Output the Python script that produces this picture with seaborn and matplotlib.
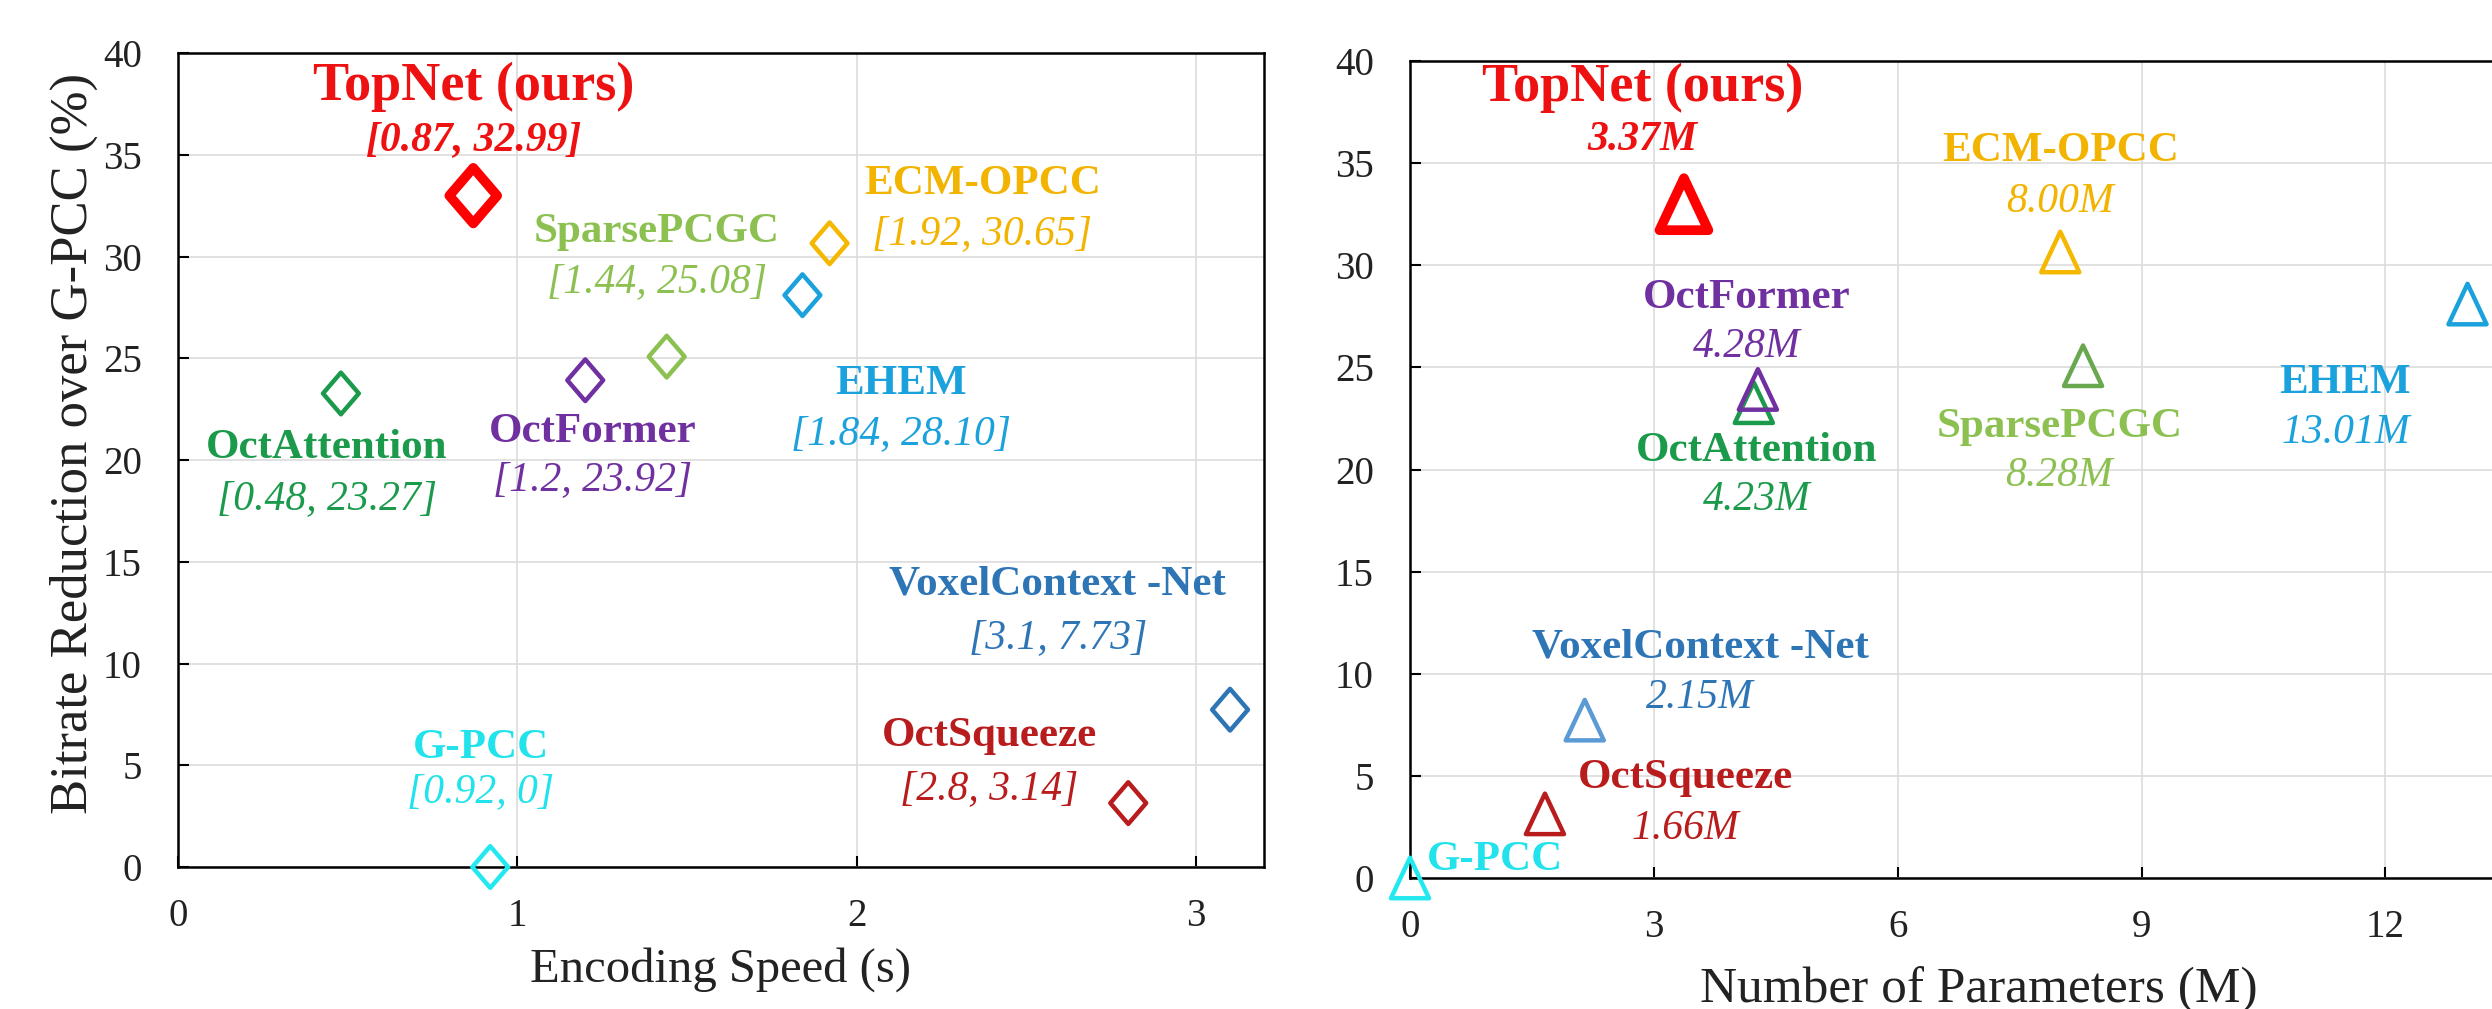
import matplotlib
matplotlib.use('Agg')  # Headless backend
import matplotlib.pyplot as plt
import seaborn as sns
import pandas as pd
import numpy as np
from matplotlib.path import Path

# --- data ---
methods = ["TopNet (ours)", "OctAttention", "OctFormer", "SparsePCGC", "EHEM",
           "ECM-OPCC", "VoxelContext -Net", "OctSqueeze", "G-PCC"]
enc_speed = [0.87, 0.48, 1.2, 1.44, 1.84, 1.92, 3.1, 2.8, 0.92]
bitrate_red = [32.99, 23.27, 23.92, 25.08, 28.10, 30.65, 7.73, 3.14, 0.0]
params_m = [3.37, 4.23, 4.28, 8.28, 13.01, 8.00, 2.15, 1.66, 0.0]
speed_tags = ["[0.87, 32.99]", "[0.48, 23.27]", "[1.2, 23.92]", "[1.44, 25.08]", "[1.84, 28.10]",
              "[1.92, 30.65]", "[3.1, 7.73]", "[2.8, 3.14]", "[0.92, 0]"]
param_tags = ["3.37M", "4.23M", "4.28M", "8.28M", "13.01M", "8.00M", "2.15M", "1.66M", ""]
speed_ticks = [0, 1, 2, 3]
param_ticks = [0, 3, 6, 9, 12]
br_ticks = [0, 5, 10, 15, 20, 25, 30, 35, 40]

# --- styles ---
text_colors = ["#ee1111", "#1b9a4b", "#7030a0", "#8cc152", "#1ba1dc",
               "#f2b400", "#2e75b6", "#b81c1c", "#22e2ec"]
left_marker_colors = ["#ff0000", "#1b9a4b", "#7030a0", "#8cc152", "#1ba1dc",
                      "#f5b800", "#2e75b6", "#b81c1c", "#22e8f0"]
right_marker_colors = ["#ff0000", "#1b9a4b", "#7030a0", "#6aa84f", "#1ba1dc",
                       "#f5b800", "#5b9bd5", "#b81c1c", "#22e8f0"]
diamond_area = [1600, 900, 900, 900, 900, 900, 900, 900, 900]
tri_area = [1400, 850, 850, 850, 850, 850, 850, 850, 850]
marker_lw = [7.0, 3.2, 3.2, 3.2, 3.2, 3.2, 3.2, 3.2, 3.2]

# label offsets (points) relative to each marker: (name dx, name dy, tag dy)
left_offsets = [(0, 78, 40), (-10, -39, -76), (5, -37, -72), (-7, 90, 54), (71, -64, -100),
                (110, 43, 7), (-124, 90, 52), (-100, 48, 10), (-7, 86, 54)]
right_offsets = [(-30, 84, 46), (2, -35, -70), (-8, 66, 31), (-17, -44, -79), (-88, -57, -93),
                 (0, 73, 36), (83, 52, 16), (101, 26, -11), (12, 13, None)]

diamond = Path([(0, 0.5), (0.43, 0), (0, -0.5), (-0.43, 0), (0, 0.5)], closed=True)
triangle = Path([(0, 0.5), (0.47, -0.5), (-0.47, -0.5), (0, 0.5)], closed=True)

sns.set_theme(style="whitegrid", rc={
    "axes.edgecolor": "black",
    "axes.linewidth": 1.8,
    "grid.color": "#dcdcdc",
    "grid.linewidth": 1.2,
})
plt.rcParams['font.family'] = ['Liberation Serif', 'DejaVu Serif']

df = pd.DataFrame({"method": methods, "speed": enc_speed, "br": bitrate_red, "params": params_m})

fig = plt.figure(figsize=(24.92, 10.09), dpi=100)
ax1 = fig.add_axes([0.07143, 0.14073, 0.43579, 0.80674])
ax2 = fig.add_axes([0.56581, 0.12983, 0.45666, 0.80971])


def draw_points(ax, xcol, marker, colors, areas):
    sns.scatterplot(data=df, x=xcol, y="br", hue="method", palette=dict(zip(methods, colors)),
                    marker=marker, s=areas, linewidth=3, legend=False, ax=ax, zorder=3)
    pts = ax.collections[-1]
    pts.set_edgecolors(pts.get_facecolors())
    pts.set_facecolors("none")
    pts.set_linewidths(marker_lw)
    pts.set_clip_on(False)


def style_axes(ax, xticks, xlim):
    ax.set_xlim(*xlim)
    ax.set_ylim(0, 40)
    ax.set_xticks(xticks)
    ax.set_yticks(br_ticks)
    ax.set_axisbelow(True)
    ax.tick_params(axis="both", direction="in", length=8, width=1.5, color="black",
                   labelsize=28, labelcolor="#222222")
    ax.tick_params(axis="y", left=True, pad=26)
    ax.tick_params(axis="x", bottom=True, pad=22)
    for sp in ax.spines.values():
        sp.set_color("black")
        sp.set_linewidth(1.8)


draw_points(ax1, "speed", diamond, left_marker_colors, diamond_area)
draw_points(ax2, "params", triangle, right_marker_colors, tri_area)
style_axes(ax1, speed_ticks, (0, 3.2))
style_axes(ax2, param_ticks, (0, 14))

ax1.set_xlabel("Encoding Speed (s)", fontsize=35, color="#222222", labelpad=9)
ax1.set_ylabel("Bitrate Reduction over G-PCC (%)", fontsize=38, color="#222222")
ax1.yaxis.set_label_coords(-0.074, 0.52)
ax2.set_xlabel("Number of Parameters (M)", fontsize=37, color="#222222", labelpad=15)
ax2.set_ylabel("")

for i, name in enumerate(methods):
    big = i == 0
    # left panel: name + [speed, bitrate]
    dx, dy, ty = left_offsets[i]
    ax1.annotate(name, (enc_speed[i], bitrate_red[i]), xytext=(dx, dy), textcoords="offset points",
                 ha="center", va="center", fontsize=39 if big else 31, fontweight="bold",
                 color=text_colors[i], annotation_clip=False)
    ax1.annotate(speed_tags[i], (enc_speed[i], bitrate_red[i]), xytext=(dx, ty),
                 textcoords="offset points", ha="center", va="center", fontsize=30,
                 fontstyle="italic", fontweight="bold" if big else "normal",
                 color=text_colors[i], annotation_clip=False)
    # right panel: name + params
    dx, dy, ty = right_offsets[i]
    ha = "left" if ty is None else "center"
    ax2.annotate(name, (params_m[i], bitrate_red[i]), xytext=(dx, dy), textcoords="offset points",
                 ha=ha, va="center", fontsize=39 if big else 31, fontweight="bold",
                 color=text_colors[i], annotation_clip=False)
    if ty is not None:
        ax2.annotate(param_tags[i], (params_m[i], bitrate_red[i]), xytext=(dx, ty),
                     textcoords="offset points", ha="center", va="center", fontsize=30,
                     fontstyle="italic", fontweight="bold" if big else "normal",
                     color=text_colors[i], annotation_clip=False)

fig.savefig("out.png", dpi=100)
plt.close(fig)
